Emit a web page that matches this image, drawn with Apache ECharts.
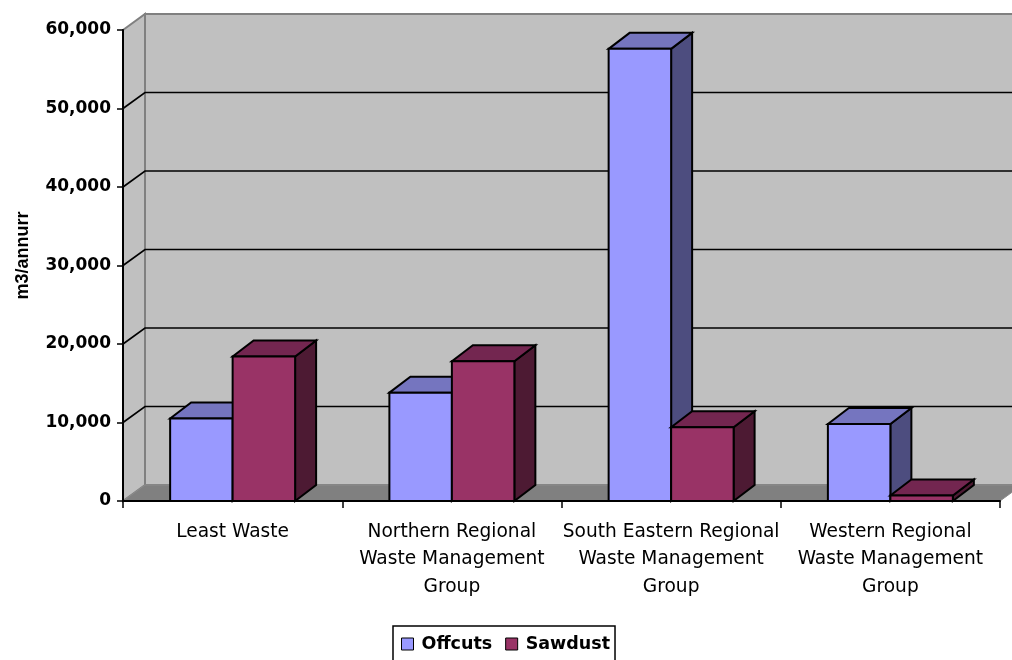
<!DOCTYPE html>
<html>
<head>
<meta charset="utf-8">
<script src="https://cdn.jsdelivr.net/npm/echarts@6/dist/echarts.min.js"></script>
<style>
html,body{margin:0;padding:0;background:#fff;}
#chart{width:1012px;height:660px;}
</style>
</head>
<body>
<div id="chart"></div>
<script>
// ---- data ----
const categories = [
  'Least Waste',
  'Northern Regional\nWaste Management\nGroup',
  'South Eastern Regional\nWaste Management\nGroup',
  'Western Regional\nWaste Management\nGroup'
];
const seriesNames = ['Offcuts', 'Sawdust'];
const offcuts = [10500, 13800, 57600, 9800];
const sawdust = [18400, 17800, 9400, 700];
const yTickValues = [0, 10000, 20000, 30000, 40000, 50000, 60000];
const gridValues = [10000, 20000, 30000, 40000, 50000];
const yAxisName = 'm3/annurr';

// ---- style ----
const DX = 22, DY = -16;       // wall depth offset
const BDX = 21, BDY = -16;     // bar depth offset
const faceColors = [
  { front: '#9999FF', top: '#7575BF', side: '#4D4D7F' },
  { front: '#993366', top: '#732650', side: '#4D1A33' }
];

const chart = echarts.init(document.getElementById('chart'), null, { renderer: 'canvas' });

function wallsRender(params, api) {
  const cs = params.coordSys;
  const x = cs.x, y = cs.y, w = cs.width, h = cs.height;
  const wallStyle = { fill: '#C0C0C0', stroke: '#808080', lineWidth: 2 };
  return {
    type: 'group',
    children: [
      { type: 'polygon', shape: { points: [[x + DX, y + DY], [x + w + DX, y + DY], [x + w + DX, y + h + DY], [x + DX, y + h + DY]] }, style: wallStyle },
      { type: 'polygon', shape: { points: [[x, y], [x + DX, y + DY], [x + DX, y + h + DY], [x, y + h]] }, style: wallStyle },
      { type: 'polygon', shape: { points: [[x, y + h], [x + DX, y + h + DY], [x + w + DX, y + h + DY], [x + w, y + h]] }, style: { fill: '#808080', stroke: '#8C8C8C', lineWidth: 1 } }
    ]
  };
}

function gridRender(params, api) {
  const cs = params.coordSys;
  const yv = api.coord([0, api.value(1)])[1];
  const x = cs.x, w = cs.width;
  return {
    type: 'polyline',
    shape: { points: [[x, yv], [x + DX, yv + DY], [x + w + DX, yv + DY]] },
    style: { stroke: '#000', lineWidth: 1.7, fill: null }
  };
}

function barRender(sIdx) {
  return function (params, api) {
    const ci = api.value(0);
    const top = api.coord([ci, api.value(1)]);
    const base = api.coord([ci, 0]);
    const catW = api.size([1, 0])[0];
    const bw = catW * 0.285;
    const x0 = sIdx === 0 ? top[0] - bw : top[0];
    const yT = top[1], yB = base[1];
    const c = faceColors[sIdx];
    const st = (f) => ({ fill: f, stroke: '#000', lineWidth: 2, lineJoin: 'miter' });
    return {
      type: 'group',
      children: [
        { type: 'polygon', shape: { points: [[x0 + bw, yT], [x0 + bw + BDX, yT + BDY], [x0 + bw + BDX, yB + BDY], [x0 + bw, yB]] }, style: st(c.side) },
        { type: 'polygon', shape: { points: [[x0, yT], [x0 + BDX, yT + BDY], [x0 + bw + BDX, yT + BDY], [x0 + bw, yT]] }, style: st(c.top) },
        { type: 'rect', shape: { x: x0, y: yT, width: bw, height: yB - yT }, style: st(c.front) }
      ]
    };
  };
}

const option = {
  backgroundColor: '#ffffff',
  animation: false,
  grid: { left: 123, right: 12, top: 30, bottom: 159, containLabel: false },
  legend: {
    data: [
      { name: seriesNames[0], itemStyle: { color: faceColors[0].front, borderColor: '#000', borderWidth: 1 } },
      { name: seriesNames[1], itemStyle: { color: faceColors[1].front, borderColor: '#000', borderWidth: 1 } }
    ],
    left: 393, top: 626,
    orient: 'horizontal',
    icon: 'rect',
    itemWidth: 12, itemHeight: 12,
    itemGap: 13,
    padding: [9, 5, 9, 8],
    borderColor: '#000', borderWidth: 1.5,
    textStyle: { fontFamily: 'DejaVu Sans', fontWeight: 'bold', fontSize: 17.5, color: '#000', padding: [0, 0, 0, 3] }
  },
  xAxis: {
    type: 'category',
    data: categories,
    z: 5,
    boundaryGap: true,
    axisLine: { show: true, lineStyle: { color: '#000', width: 2 } },
    axisTick: { show: true, length: 7, alignWithLabel: false, lineStyle: { color: '#000', width: 1.5 } },
    axisLabel: { interval: 0, margin: 17, fontFamily: 'DejaVu Sans', fontSize: 18.6, lineHeight: 27.5, color: '#000', align: 'center' },
    splitLine: { show: false }
  },
  yAxis: {
    type: 'value',
    min: yTickValues[0], max: yTickValues[yTickValues.length - 1], interval: 10000,
    z: 5,
    name: yAxisName,
    nameLocation: 'middle',
    nameRotate: 90,
    nameGap: 91,
    nameTextStyle: { fontFamily: 'Liberation Sans', fontWeight: 'bold', fontSize: 18, color: '#000', padding: [0, 0, 0, 20] },
    axisLine: { show: true, lineStyle: { color: '#000', width: 2 } },
    axisTick: { show: true, length: 6, inside: false, lineStyle: { color: '#000', width: 1.5 } },
    axisLabel: {
      margin: 12, fontFamily: 'DejaVu Sans', fontWeight: 'bold', fontSize: 17, color: '#000',
      formatter: (v) => v.toLocaleString('en-US')
    },
    splitLine: { show: false }
  },
  series: [
    { type: 'custom', name: '_walls', z: 1, silent: true, data: [[0, 0]], renderItem: wallsRender, encode: { x: 0, y: 1 } },
    { type: 'custom', name: '_grid', z: 1.5, silent: true, data: gridValues.map(v => [0, v]), renderItem: gridRender, encode: { x: 0, y: 1 } },
    { type: 'custom', name: seriesNames[0], z: 3, data: offcuts.map((v, i) => [i, v]), renderItem: barRender(0), encode: { x: 0, y: 1 }, itemStyle: { color: faceColors[0].front } },
    { type: 'custom', name: seriesNames[1], z: 3, data: sawdust.map((v, i) => [i, v]), renderItem: barRender(1), encode: { x: 0, y: 1 }, itemStyle: { color: faceColors[1].front } }
  ]
};
chart.setOption(option);
</script>
</body>
</html>
